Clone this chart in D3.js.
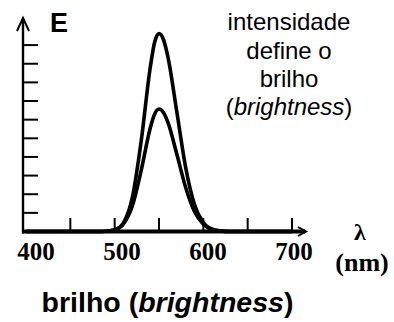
<!DOCTYPE html>
<html>
<head>
<meta charset="utf-8">
<script src="https://cdn.jsdelivr.net/npm/d3@7"></script>
<style>
  html, body { margin: 0; padding: 0; background: #fff; }
  svg { display: block; }
</style>
</head>
<body>
<svg id="chart" width="394" height="322"></svg>
<script>
// ---- data ----
const wavelengths = [400, 470, 480, 490, 500, 510, 520, 530, 540, 545, 550, 555, 560, 570, 580, 590, 600, 610, 620, 630, 700];
const highIntensity = [0, 0, 0, 0.01, 0.08, 0.47, 1.84, 4.88, 8.76, 10.14, 10.62, 10.30, 9.38, 6.45, 3.45, 1.44, 0.47, 0.12, 0.02, 0, 0];
const lowIntensity  = [0, 0, 0, 0.01, 0.09, 0.41, 1.38, 3.29, 5.53, 6.29, 6.57, 6.39, 5.87, 4.17, 2.37, 1.07, 0.39, 0.11, 0.03, 0, 0];
const xTickValues = [450, 500, 550, 600, 650, 700];
const xTickLabels = [400, 500, 600, 700];
const yTickValues = [1, 2, 3, 4, 5, 6, 7, 8, 9, 10];
const yAxisLabel = "E";
const xAxisSymbol = "λ";
const xAxisUnit = "(nm)";
const noteLines = ["intensidade", "define o", "brilho"];
const noteLastLine = ["(", "brightness", ")"];
const titleParts = ["brilho (", "brightness", ")"];

// ---- scales ----
const svg = d3.select("#chart");
const x = d3.scaleLinear().domain([400, 700]).range([26, 292]);
const xLabelPos = d3.scaleLinear().domain([400, 700]).range([36, 294]);
const y = d3.scaleLinear().domain([0, 11.4]).range([231.5, 19]);
const x0 = 23, yBase = y(0);

// ---- curves ----
const line = d3.line().x(d => x(d[0])).y(d => y(d[1])).curve(d3.curveMonotoneX);
[highIntensity, lowIntensity].forEach(series => {
  svg.append("path")
    .datum(wavelengths.map((w, i) => [w, series[i]]))
    .attr("d", line)
    .attr("fill", "none")
    .attr("stroke", "#000")
    .attr("stroke-width", 3.6)
    .attr("stroke-linejoin", "round");
});

// ---- y axis ----
svg.append("line").attr("x1", x0).attr("x2", x0).attr("y1", yBase + 2).attr("y2", 19)
  .attr("stroke", "#000").attr("stroke-width", 2.4);
svg.append("path")
  .attr("d", `M${x0 - 6},${31} L${x0},${18} L${x0 + 6},${31}`)
  .attr("fill", "none").attr("stroke", "#000").attr("stroke-width", 2);
svg.selectAll(".ytick").data(yTickValues).enter().append("line")
  .attr("x1", x0).attr("x2", x0 + 15)
  .attr("y1", d => y(d)).attr("y2", d => y(d))
  .attr("stroke", "#000").attr("stroke-width", 2);

// ---- x axis ----
svg.append("line").attr("x1", x0 - 1).attr("x2", 305).attr("y1", yBase).attr("y2", yBase)
  .attr("stroke", "#000").attr("stroke-width", 4.2);
svg.append("path")
  .attr("d", `M${298},${yBase - 4.5} L${306},${yBase} L${298},${yBase + 4.5}`)
  .attr("fill", "none").attr("stroke", "#000").attr("stroke-width", 2);
svg.selectAll(".xtick").data(xTickValues).enter().append("line")
  .attr("x1", d => x(d)).attr("x2", d => x(d))
  .attr("y1", yBase).attr("y2", yBase - 13.5)
  .attr("stroke", "#000").attr("stroke-width", 2);
svg.selectAll(".xlabel").data(xTickLabels).enter().append("text")
  .attr("x", d => xLabelPos(d)).attr("y", 260)
  .attr("text-anchor", "middle")
  .attr("font-family", "'Liberation Serif', 'Times New Roman', serif")
  .attr("font-weight", "bold").attr("font-size", 25)
  .text(d => d);

// ---- axis labels ----
svg.append("text").attr("x", 50).attr("y", 31.5)
  .attr("font-family", "'Liberation Sans', Arial, sans-serif")
  .attr("font-weight", "bold").attr("font-size", 27)
  .text(yAxisLabel);
svg.append("text").attr("x", 360).attr("y", 240).attr("text-anchor", "middle")
  .attr("font-family", "'Liberation Serif', 'Times New Roman', serif")
  .attr("font-weight", "bold").attr("font-size", 24)
  .text(xAxisSymbol);
svg.append("text").attr("x", 362).attr("y", 271).attr("text-anchor", "middle")
  .attr("font-family", "'Liberation Serif', 'Times New Roman', serif")
  .attr("font-weight", "bold").attr("font-size", 26)
  .text(xAxisUnit);

// ---- note ----
const noteY = [30, 58.5, 87];
noteLines.forEach((t, i) => {
  svg.append("text").attr("x", 289).attr("y", noteY[i]).attr("text-anchor", "middle")
    .attr("font-family", "'Liberation Sans', Arial, sans-serif").attr("font-size", 24)
    .text(t);
});
const last = svg.append("text").attr("x", 289).attr("y", 115).attr("text-anchor", "middle")
  .attr("font-family", "'Liberation Sans', Arial, sans-serif").attr("font-size", 24);
noteLastLine.forEach((t, i) => {
  last.append("tspan").attr("font-style", i === 1 ? "italic" : "normal").text(t);
});

// ---- title ----
const title = svg.append("text").attr("x", 167.5).attr("y", 312).attr("text-anchor", "middle")
  .attr("font-family", "'Liberation Sans', Arial, sans-serif")
  .attr("font-weight", "bold").attr("font-size", 28.5);
titleParts.forEach((t, i) => {
  title.append("tspan").attr("font-style", i === 1 ? "italic" : "normal").text(t);
});
</script>
</body>
</html>
